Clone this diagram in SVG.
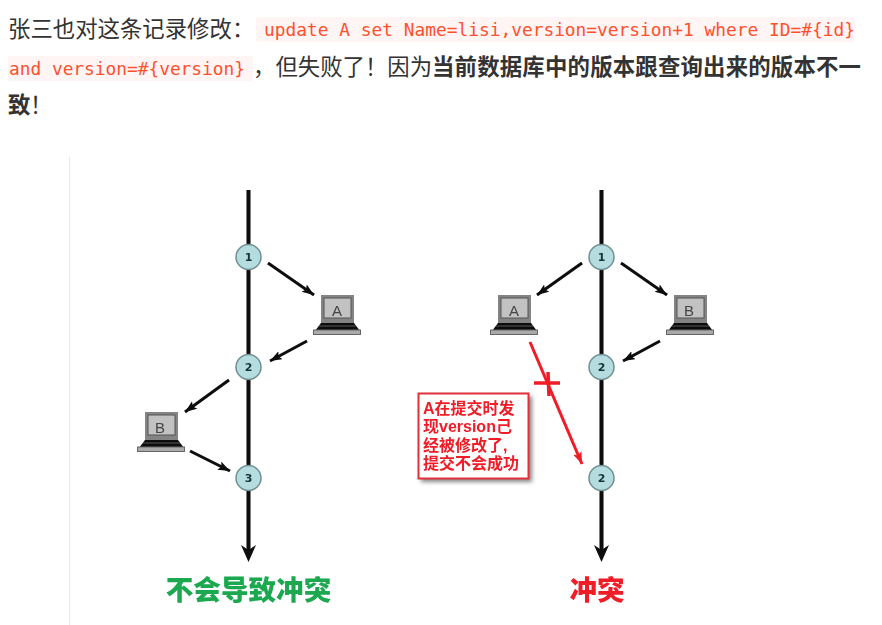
<svg xmlns="http://www.w3.org/2000/svg" width="882" height="625" viewBox="0 0 882 625">
<style>
.t{font-family:"Noto Sans CJK SC","Liberation Sans",sans-serif;font-size:22.4px;fill:#333}
.b{font-weight:700;fill:#333}
.c{font-family:"DejaVu Sans Mono","Liberation Mono",monospace;font-size:17.85px;fill:#ff502c}
.bg{fill:#fff5f5}
.tl{stroke:#0a0a0a;stroke-width:4;fill:none}
.ar{stroke:#0a0a0a;stroke-width:3;fill:none;marker-end:url(#ah)}
.re{stroke:#f01c26;stroke-width:3;fill:none;marker-end:url(#rh)}
.n{fill:#b5dde0;stroke:#6f8f90;stroke-width:1.5}
.nt{font-family:"DejaVu Sans","Liberation Sans",sans-serif;font-size:11px;font-weight:700;fill:#15303a;text-anchor:middle}
.lt{font-family:"Liberation Sans",sans-serif;font-size:15px;fill:#444;text-anchor:middle}
.bt{font-family:"Liberation Sans","Noto Sans CJK SC",sans-serif;font-size:16px;font-weight:700;fill:#f01c26}
.big{font-family:"Noto Sans CJK SC",sans-serif;font-size:27.6px;font-weight:900;text-anchor:middle}
</style>
<defs>
<filter id="s" x="-5%" y="-5%" width="110%" height="110%"><feGaussianBlur stdDeviation="0.55"/></filter>
<filter id="sh" x="-10%" y="-10%" width="125%" height="125%"><feGaussianBlur stdDeviation="2"/></filter>
<marker id="ah" markerUnits="userSpaceOnUse" markerWidth="14" markerHeight="10" refX="12" refY="4.500" orient="auto"><path d="M0 0L12 4.500L0 9L2.500 4.500Z" fill="#0a0a0a"/></marker>
<marker id="rh" markerUnits="userSpaceOnUse" markerWidth="14" markerHeight="10" refX="12" refY="4.500" orient="auto"><path d="M0 0L12 4.500L0 9L2.500 4.500Z" fill="#f01c26"/></marker>
<g id="lap">
<rect x="8" y="0" width="33" height="28" fill="#848484"/>
<rect x="11" y="3" width="27" height="20" fill="#c2c2c2" stroke="#555" stroke-width="1"/>
<path d="M8 28H41L47 36H2Z" fill="#111"/>
<path d="M6 31H43" stroke="#555" stroke-width="1"/>
<rect x="0.500" y="35" width="47" height="4.500" fill="#aaa" stroke="#666" stroke-width="1"/>
</g>
</defs>
<rect width="882" height="625" fill="#fff"/>
<g id="article">
<text class="t" x="8" y="37">张三也对这条记录修改：</text>
<rect class="bg" x="256" y="17" width="599" height="25" rx="3"/>
<text class="c" x="264" y="36" textLength="591">update A set Name=lisi,version=version+1 where ID=#{id}</text>
<rect class="bg" x="8" y="56" width="245" height="25" rx="3"/>
<text class="c" x="9" y="75" textLength="236">and version=#{version}</text>
<text class="t" x="253" y="75">，但失败了！因为</text>
<text class="t b" x="432" y="75" textLength="429">当前数据库中的版本跟查询出来的版本不一</text>
<text class="t b" x="8" y="113">致</text>
<text class="t" x="30" y="113">！</text>
</g>
<g id="figure" filter="url(#s)">
<line x1="69.500" y1="157" x2="69.500" y2="625" stroke="#e8e8e8"/>
<g id="connectors">
<line class="tl" x1="248.500" y1="190" x2="248.500" y2="550"/>
<path d="M241 545L248.500 562L256 545L248.500 550Z" fill="#0a0a0a"/>
<line class="tl" x1="601.500" y1="190" x2="601.500" y2="550"/>
<path d="M594 545L601.500 562L609 545L601.500 550Z" fill="#0a0a0a"/>
<line class="ar" x1="268" y1="263" x2="314" y2="295"/>
<line class="ar" x1="307" y1="341" x2="270" y2="361"/>
<line class="ar" x1="229" y1="380" x2="185" y2="412"/>
<line class="ar" x1="190" y1="451" x2="230" y2="471"/>
<line class="ar" x1="582" y1="263" x2="537" y2="295"/>
<line class="ar" x1="621" y1="263" x2="667" y2="295"/>
<line class="ar" x1="660" y1="341" x2="623" y2="361"/>
<line class="re" x1="530" y1="342" x2="582" y2="464"/>
<path d="M534 383H560M548 372L549 396" stroke="#f01c26" stroke-width="3.500" fill="none"/>
</g>
<g id="n1"><circle class="n" cx="248.500" cy="257" r="12.500"/><text class="nt" x="248.500" y="261">1</text></g>
<g id="n2"><circle class="n" cx="248.500" cy="367" r="12.500"/><text class="nt" x="248.500" y="371">2</text></g>
<g id="n3"><circle class="n" cx="248.500" cy="478" r="12.500"/><text class="nt" x="248.500" y="482">3</text></g>
<g id="n4"><circle class="n" cx="601.500" cy="257" r="12.500"/><text class="nt" x="601.500" y="261">1</text></g>
<g id="n5"><circle class="n" cx="601.500" cy="367" r="12.500"/><text class="nt" x="601.500" y="371">2</text></g>
<g id="n6"><circle class="n" cx="601.500" cy="478" r="12.500"/><text class="nt" x="601.500" y="482">2</text></g>
<g id="laptop-a1"><use href="#lap" x="313" y="295"/><text class="lt" x="337" y="316">A</text></g>
<g id="laptop-b1"><use href="#lap" x="137" y="412"/><text class="lt" x="160" y="433">B</text></g>
<g id="laptop-a2"><use href="#lap" x="490" y="295"/><text class="lt" x="514" y="316">A</text></g>
<g id="laptop-b2"><use href="#lap" x="666" y="295"/><text class="lt" x="689" y="316">B</text></g>
<g id="note">
<rect x="421" y="396" width="111" height="86" fill="#888" filter="url(#sh)"/>
<rect x="418.500" y="393.500" width="110" height="85" fill="#fff" stroke="#e0303a" stroke-width="2"/>
<text class="bt" x="423" y="413.500">A在提交时发</text>
<text class="bt" x="423" y="432">现version己</text>
<text class="bt" x="423" y="450.500">经被修改了,</text>
<text class="bt" x="423" y="469">提交不会成功</text>
</g>
<text id="label-ok" class="big" x="248.500" y="600" fill="#1aa84f">不会导致冲突</text>
<text id="label-bad" class="big" x="597" y="600" fill="#f01c26">冲突</text>
</g>
</svg>
